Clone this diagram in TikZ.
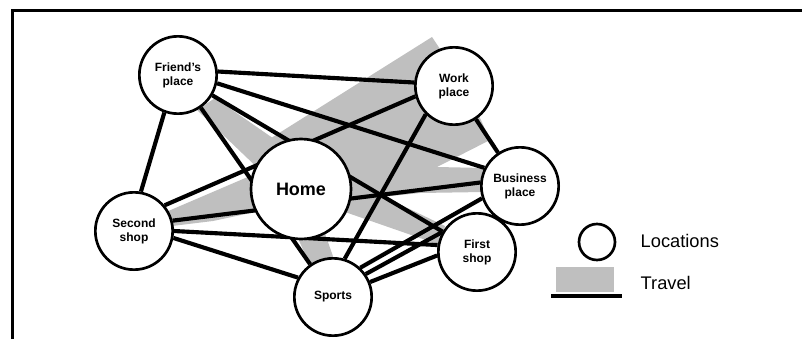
\documentclass[tikz,border=0pt]{standalone}
\usepackage{fontspec}
\setmainfont{Liberation Sans}
\usepackage{tikz}

\pgfdeclarelayer{travel}
\pgfdeclarelayer{trips}
\pgfsetlayers{travel,trips,main}

\begin{document}
\begin{tikzpicture}[
  x=0.75pt, y=-0.75pt,
  loc/.style={circle, draw, fill=white, line width=2pt,
    minimum size=58pt, inner sep=0pt, align=center,
    font=\fontsize{9}{10.5}\selectfont\bfseries},
  trip/.style={line width=3.1pt},
  travel/.style={fill=black!25},
  legtext/.style={anchor=west, font=\fontsize{13.7}{16}\selectfont}
]
\useasboundingbox (0,0) rectangle (802,339);
\draw[line width=2.25pt] (12,339) -- (12,10) -- (802,10);

% locations
\node[loc] (friend) at (178,75) {Friend's\\place};
\node[loc] (work) at (454,86) {Work\\place};
\node[loc] (business) at (520,186) {Business\\place};
\node[loc, minimum size=75pt, font=\fontsize{13.5}{15}\selectfont\bfseries] (home) at (301,189) {Home};
\node[loc] (second) at (134,231) {Second\\shop};
\node[loc] (firstshop) at (477,252) {First\\shop};
\node[loc] (sports) at (333,297) {Sports};

% trips between locations
\begin{pgfonlayer}{trips}
\draw[trip] (friend.5)--(work.175); \draw[trip] (friend.-12)--(business.153);
\draw[trip] (friend)--(firstshop); \draw[trip] (friend)--(sports);
\draw[trip] (friend.250)--(second.80);
\draw[trip] (second.40)--(work.195); \draw[trip] (second.15)--(business.175);
\draw[trip] (second.0)--(firstshop.170); \draw[trip] (second.-10)--(sports.151);
\draw[trip] (work.225)--(sports.73); \draw[trip] (work)--(business);
\draw[trip] (sports.47)--(business.198);
\draw[trip] (sports.35)--(firstshop.150); \draw[trip] (sports.22)--(firstshop.185);
\end{pgfonlayer}

% grey travel bands
\begin{pgfonlayer}{travel}
\fill[travel] (197,110) -- (215,98) -- (290,150) -- (265,175) -- cycle;
\fill[travel] (268,140) -- (432,37) -- (442,52) -- (480,118) -- (490,140)
  -- (437,167) -- (484,168) -- (484,192) -- (420,193) -- (352,200)
  -- (300,170) -- cycle;
\fill[travel] (345,178) -- (445,226) -- (440,245) -- (345,212) -- cycle;
\fill[travel] (166,212) -- (250,176) -- (255,212) -- (213,221) -- (172,226) -- cycle;
\fill[travel] (292,225) -- (322,225) -- (335,262) -- (310,265) -- cycle;
\end{pgfonlayer}

% legend
\node[loc, minimum size=27pt] (legloc) at (597,242) {};
\node[legtext] (loclabel) at (636,241) {Locations};
\fill[travel] (556,267) rectangle (614,292);
\draw[trip] (551,296) -- (622,296);
\node[legtext] (travlabel) at (636,283) {Travel};
\end{tikzpicture}
\end{document}
